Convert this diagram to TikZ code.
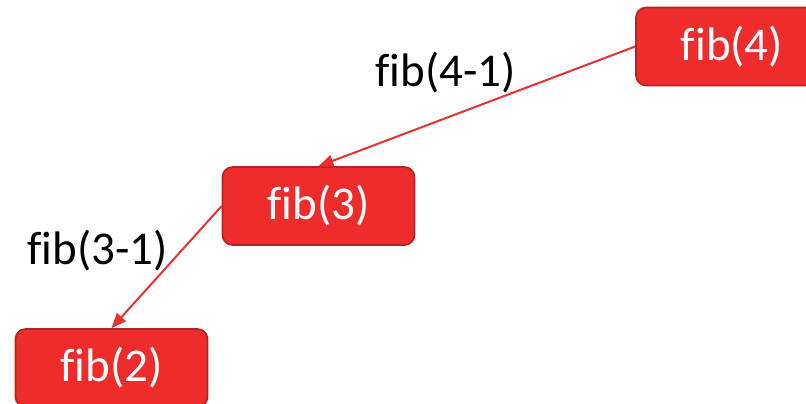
\documentclass[tikz,border=0pt]{standalone}
\usepackage{fontspec}
\setmainfont[Ligatures=NoCommon]{Carlito}
\usetikzlibrary{arrows.meta}
\definecolor{boxfill}{HTML}{EE2C2C}
\definecolor{boxedge}{HTML}{B52424}
\definecolor{linkred}{HTML}{E8302E}
\tikzset{
  fibbox/.style={draw=boxedge, fill=boxfill, line width=1.6pt, rounded corners=10pt,
    minimum width=192pt, minimum height=78pt, inner sep=0pt, text=white,
    font=\fontsize{47pt}{52pt}\selectfont},
  fiblabel/.style={inner sep=0pt, text=black, font=\fontsize{47pt}{52pt}\selectfont},
  link/.style={draw=linkred, line width=2pt, -{Triangle[length=15pt,width=12pt]}}
}
\begin{document}
\begin{tikzpicture}[x=1pt,y=-1pt]
\useasboundingbox (0,0) rectangle (806,404);
\node[fibbox] (n4) at (732,46.5) {fib(4)};
\node[fibbox] (n3) at (318.5,206) {fib(3)};
\node[fibbox] (n2) at (111.5,368) {fib(2)};
\node[fiblabel] (l4) at (445.5,73) {fib(4-1)};
\node[fiblabel] (l3) at (97.5,251) {fib(3-1)};
\draw[link] (n4.west) -- (n3.north);
\draw[link] (n3.west) -- (n2.north);
\end{tikzpicture}
\end{document}
